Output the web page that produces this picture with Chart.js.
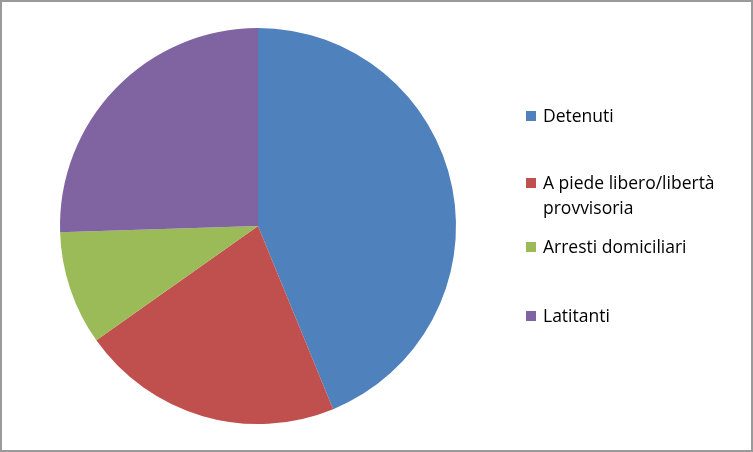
<!DOCTYPE html>
<html>
<head>
<meta charset="utf-8">
<script src="https://cdn.jsdelivr.net/npm/chart.js@4"></script>
<style>
  html, body { margin: 0; padding: 0; background: #fff; }
  #wrap { position: relative; width: 753px; height: 452px; }
  #myChart { position: absolute; left: 0; top: 0; }
  #frame { position: absolute; left: 0; top: 0; width: 753px; height: 452px;
           box-sizing: border-box; border: 2px solid #9a9a9a; pointer-events: none; }
  #legend { position: absolute; left: 526px; top: 0; font-family: "Open Sans", sans-serif;
            font-size: 17.5px; color: #000; line-height: 25px; }
  .item { position: absolute; left: 0; white-space: nowrap; }
  .box { position: absolute; left: 0; top: 8px; width: 10px; height: 10px; }
  .txt { position: absolute; left: 17px; top: 0; }
</style>
</head>
<body>
<div id="wrap">
  <canvas id="myChart" width="753" height="452"></canvas>
  <div id="legend"></div>
  <div id="frame"></div>
</div>
<script>
// categories and values (percent)
const categories = ['Detenuti', 'A piede libero/libertà provvisoria', 'Arresti domiciliari', 'Latitanti'];
const legendLines = [['Detenuti'], ['A piede libero/libertà', 'provvisoria'], ['Arresti domiciliari'], ['Latitanti']];
const values = [43.8, 21.4, 9.3, 25.5];
const colors = ['#4F81BD', '#C0504D', '#9BBB59', '#8064A2'];
const legendTops = [103, 170, 234, 303];

const myChart = document.getElementById('myChart');

let pieChart = new Chart(myChart, {
  type: 'pie',
  data: {
    labels: categories,
    datasets: [{
      data: values,
      backgroundColor: colors,
      borderWidth: 0
    }]
  },
  options: {
    responsive: false,
    animation: false,
    layout: { padding: { left: 60, right: 297, top: 28, bottom: 28 } },
    plugins: {
      legend: { display: false },
      tooltip: { enabled: false }
    }
  }
});

// legend on the right, built from the same arrays
const legendEl = document.getElementById('legend');
categories.forEach((c, i) => {
  let item = document.createElement('div');
  item.className = 'item';
  item.style.top = legendTops[i] + 'px';
  let box = document.createElement('div');
  box.className = 'box';
  box.style.background = colors[i];
  let txt = document.createElement('div');
  txt.className = 'txt';
  txt.innerHTML = legendLines[i].join('<br>');
  item.appendChild(box);
  item.appendChild(txt);
  legendEl.appendChild(item);
});
</script>
</body>
</html>
